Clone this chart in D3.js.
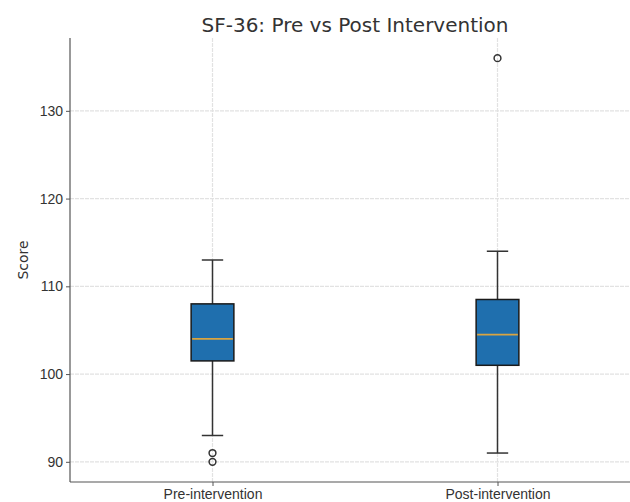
<!DOCTYPE html>
<html>
<head>
<meta charset="utf-8">
<script src="https://cdn.jsdelivr.net/npm/d3@7"></script>
<style>
  body { margin: 0; background: #fff; }
  svg { font-family: "DejaVu Sans", sans-serif; }
</style>
</head>
<body>
<div class="vis-boxplot"></div>
<script>
// box statistics
const groups = ["Pre-intervention", "Post-intervention"];
const whiskerLow = [93, 91];
const q1 = [101.5, 101];
const median = [104, 104.5];
const q3 = [108, 108.5];
const whiskerHigh = [113, 114];
const outliers = [[91, 90], [136]];
const yTicks = [90, 100, 110, 120, 130];

const W = 630, H = 502;
const margin = { top: 38, left: 70, bottom: 20 };
const plotBottom = H - margin.bottom; // 482

const svg = d3.select(".vis-boxplot")
  .append("svg")
  .attr("width", W)
  .attr("height", H);

let x = d3.scaleLinear().domain([0.5, 2.5]).range([margin.left, 640]);
let y = d3.scaleLinear().domain([87.7, 138.3]).range([plotBottom, margin.top]);

const boxW = x(1.15) - x(1); // width 0.15 like matplotlib

// grid
svg.append("g")
  .selectAll("line")
  .data(yTicks)
  .enter()
  .append("line")
  .attr("x1", margin.left)
  .attr("x2", 640)
  .attr("y1", d => y(d))
  .attr("y2", d => y(d))
  .attr("stroke", "#e2e2e2")
  .attr("stroke-width", 1.2)
  .attr("stroke-dasharray", "4,1");

svg.append("g")
  .selectAll("line")
  .data(groups)
  .enter()
  .append("line")
  .attr("x1", (d, i) => x(i + 1))
  .attr("x2", (d, i) => x(i + 1))
  .attr("y1", margin.top)
  .attr("y2", plotBottom)
  .attr("stroke", "#e2e2e2")
  .attr("stroke-width", 1.2)
  .attr("stroke-dasharray", "4,1");

// y axis
let yAxis = svg.append("g")
  .attr("transform", "translate(" + margin.left + ",0)")
  .call(d3.axisLeft(y).tickValues(yTicks).tickSize(4).tickPadding(3));
yAxis.select(".domain").attr("stroke", "#555").attr("stroke-width", 1.2)
  .attr("d", "M0," + margin.top + "V" + plotBottom);
yAxis.selectAll(".tick line").attr("stroke", "#555");
yAxis.selectAll("text")
  .style("fill", "#333")
  .style("font-size", "14px");

// x axis
let xAxis = svg.append("g")
  .attr("transform", "translate(0," + plotBottom + ")")
  .call(d3.axisBottom(x).tickValues([1, 2]).tickFormat((d) => groups[d - 1]).tickSize(4).tickPadding(3));
xAxis.select(".domain").attr("stroke", "#555").attr("stroke-width", 1.2)
  .attr("d", "M" + margin.left + ",0H640");
xAxis.selectAll(".tick line").attr("stroke", "#555");
xAxis.selectAll("text")
  .style("fill", "#333")
  .style("font-size", "14px");

// y label
svg.append("text")
  .attr("transform", "rotate(-90)")
  .attr("x", -(margin.top + plotBottom) / 2)
  .attr("y", 28)
  .style("text-anchor", "middle")
  .style("font-size", "14px")
  .style("fill", "#333")
  .text("Score");

// title
svg.append("text")
  .attr("x", (margin.left + 640) / 2)
  .attr("y", 32)
  .style("text-anchor", "middle")
  .style("font-size", "20px")
  .style("fill", "#333")
  .text("SF-36: Pre vs Post Intervention");

// boxes
const box = svg.append("g")
  .selectAll("g")
  .data(groups)
  .enter()
  .append("g");

// whiskers
box.append("line")
  .attr("x1", (d, i) => x(i + 1)).attr("x2", (d, i) => x(i + 1))
  .attr("y1", (d, i) => y(whiskerHigh[i])).attr("y2", (d, i) => y(q3[i]))
  .attr("stroke", "#333").attr("stroke-width", 1.5);
box.append("line")
  .attr("x1", (d, i) => x(i + 1)).attr("x2", (d, i) => x(i + 1))
  .attr("y1", (d, i) => y(q1[i])).attr("y2", (d, i) => y(whiskerLow[i]))
  .attr("stroke", "#333").attr("stroke-width", 1.5);

// caps
box.append("line")
  .attr("x1", (d, i) => x(i + 1) - boxW / 4).attr("x2", (d, i) => x(i + 1) + boxW / 4)
  .attr("y1", (d, i) => y(whiskerHigh[i])).attr("y2", (d, i) => y(whiskerHigh[i]))
  .attr("stroke", "#333").attr("stroke-width", 1.5);
box.append("line")
  .attr("x1", (d, i) => x(i + 1) - boxW / 4).attr("x2", (d, i) => x(i + 1) + boxW / 4)
  .attr("y1", (d, i) => y(whiskerLow[i])).attr("y2", (d, i) => y(whiskerLow[i]))
  .attr("stroke", "#333").attr("stroke-width", 1.5);

// box body
box.append("rect")
  .attr("x", (d, i) => x(i + 1) - boxW / 2)
  .attr("width", boxW)
  .attr("y", (d, i) => y(q3[i]))
  .attr("height", (d, i) => y(q1[i]) - y(q3[i]))
  .attr("fill", "#1f6fae")
  .attr("stroke", "#1a1a1a")
  .attr("stroke-width", 1.5);

// median
box.append("line")
  .attr("x1", (d, i) => x(i + 1) - boxW / 2 + 1).attr("x2", (d, i) => x(i + 1) + boxW / 2 - 1)
  .attr("y1", (d, i) => y(median[i])).attr("y2", (d, i) => y(median[i]))
  .attr("stroke", "#d9a441").attr("stroke-width", 1.8);

// fliers
box.each(function (d, i) {
  d3.select(this).selectAll("circle")
    .data(outliers[i])
    .enter()
    .append("circle")
    .attr("cx", x(i + 1))
    .attr("cy", v => y(v))
    .attr("r", 3.4)
    .attr("fill", "none")
    .attr("stroke", "#333")
    .attr("stroke-width", 1.5);
});
</script>
</body>
</html>
